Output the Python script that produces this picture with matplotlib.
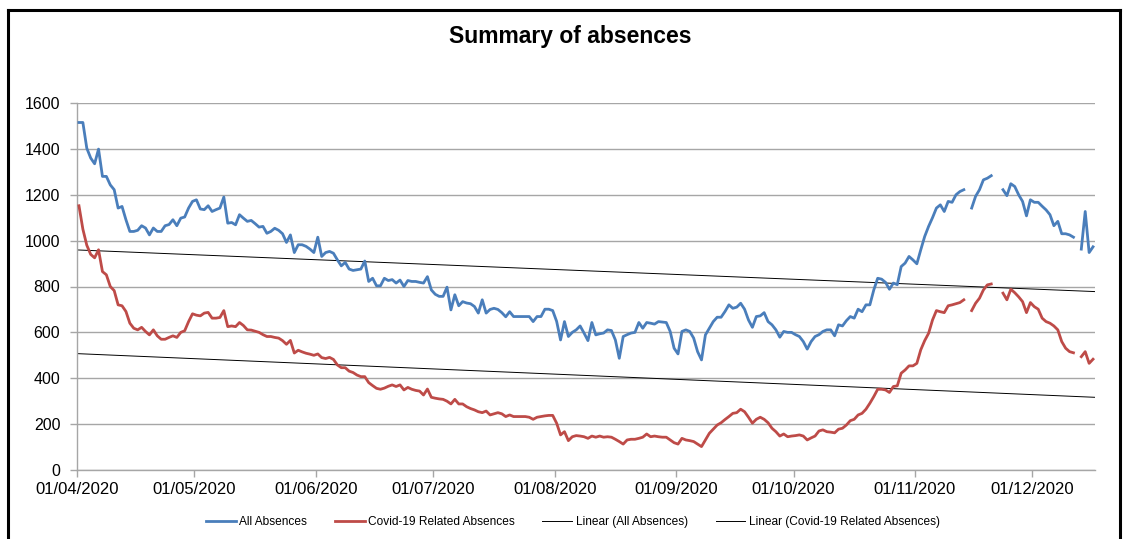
import matplotlib
matplotlib.use("Agg")
import matplotlib.pyplot as plt
import matplotlib.dates as mdates
from matplotlib.lines import Line2D
from matplotlib import font_manager
import numpy as np
import pandas as pd

nan = np.nan

# Daily absence counts from 01/04/2020 onwards (nan = no return)
start_date = "2020-04-01"

all_absences = [
    1515, 1515, 1403, 1360, 1335, 1399, 1280, 1280, 1243, 1222,
    1142, 1149, 1091, 1040, 1040, 1045, 1065, 1055, 1025, 1055,
    1040, 1040, 1065, 1070, 1091, 1065, 1098, 1103, 1142, 1171,
    1178, 1138, 1135, 1152, 1127, 1135, 1142, 1190, 1076, 1079,
    1069, 1113, 1098, 1084, 1088, 1074, 1059, 1062, 1032, 1040,
    1054, 1045, 1030, 992, 1025, 948, 982, 982, 975, 963,
    948, 1015, 931, 948, 953, 945, 916, 890, 905, 876,
    870, 873, 876, 911, 822, 836, 803, 803, 836, 826,
    830, 815, 828, 800, 826, 822, 822, 818, 815, 843,
    785, 766, 757, 757, 797, 698, 764, 716, 734, 728,
    725, 713, 684, 742, 684, 700, 705, 700, 686, 668,
    690, 669, 669, 669, 669, 669, 647, 669, 669, 701,
    701, 695, 648, 567, 647, 582, 600, 611, 628, 597,
    564, 643, 589, 594, 597, 611, 608, 567, 487, 582,
    590, 597, 600, 643, 618, 643, 640, 636, 647, 645,
    643, 604, 531, 506, 604, 611, 604, 575, 516, 480,
    589, 618, 647, 666, 666, 691, 720, 705, 710, 727,
    701, 654, 622, 669, 672, 686, 647, 633, 611, 579,
    604, 600, 600, 590, 582, 560, 527, 560, 582, 590,
    604, 611, 611, 585, 633, 628, 651, 669, 662, 701,
    690, 720, 720, 785, 836, 832, 818, 788, 815, 808,
    887, 902, 931, 916, 899, 960, 1018, 1062, 1100, 1142,
    1156, 1127, 1171, 1167, 1200, 1214, 1222, nan, 1142, 1193,
    1222, 1265, 1272, 1283, nan, nan, 1222, 1196, 1248, 1236,
    1200, 1171, 1108, 1178, 1167, 1167, 1150, 1134, 1113, 1065,
    1084, 1030, 1030, 1025, 1015, nan, 963, 1127, 948, 973,
]

covid_absences = [
    1152, 1050, 980, 940, 925, 960, 865, 851, 800, 782,
    720, 716, 691, 640, 618, 611, 622, 604, 589, 611,
    585, 570, 570, 578, 585, 578, 600, 607, 647, 681,
    675, 672, 684, 687, 662, 662, 665, 695, 625, 628,
    625, 643, 630, 611, 610, 605, 600, 590, 582, 582,
    578, 575, 564, 548, 565, 510, 522, 515, 509, 505,
    500, 506, 490, 486, 491, 482, 458, 446, 446, 431,
    425, 414, 407, 407, 381, 368, 356, 352, 357, 365,
    371, 364, 371, 349, 360, 352, 347, 344, 327, 353,
    317, 313, 310, 308, 300, 288, 308, 288, 288, 276,
    268, 262, 254, 250, 257, 240, 245, 250, 245, 233,
    240, 233, 233, 233, 233, 230, 221, 230, 233, 236,
    238, 238, 204, 153, 167, 128, 145, 150, 148, 145,
    138, 148, 143, 148, 143, 145, 143, 134, 124, 113,
    131, 134, 134, 138, 143, 157, 145, 148, 145, 143,
    143, 131, 119, 113, 138, 131, 128, 124, 113, 102,
    131, 160, 178, 196, 206, 220, 233, 247, 250, 265,
    254, 230, 204, 221, 230, 221, 206, 182, 167, 148,
    157, 145, 148, 150, 153, 148, 131, 140, 148, 170,
    175, 167, 165, 162, 178, 182, 196, 215, 221, 240,
    247, 265, 291, 320, 352, 352, 349, 338, 364, 367,
    422, 436, 454, 454, 465, 524, 564, 596, 654, 695,
    690, 686, 716, 720, 725, 730, 742, nan, 695, 727,
    749, 785, 807, 811, nan, nan, 771, 742, 788, 773,
    755, 734, 686, 730, 712, 701, 662, 647, 640, 628,
    611, 560, 531, 516, 511, nan, 494, 516, 465, 483,
]

month_ticks = ["2020-04-01", "2020-05-01", "2020-06-01", "2020-07-01", "2020-08-01",
               "2020-09-01", "2020-10-01", "2020-11-01", "2020-12-01"]
y_ticks = [0, 200, 400, 600, 800, 1000, 1200, 1400, 1600]

series_names = ["All Absences", "Covid-19 Related Absences"]
trend_names = ["Linear (All Absences)", "Linear (Covid-19 Related Absences)"]

BLUE = "#4A7EBB"
RED = "#BE4B48"

available = {f.name for f in font_manager.fontManager.ttflist}
base_font = "Liberation Sans Narrow" if "Liberation Sans Narrow" in available else "Liberation Sans"
plt.rcParams["font.family"] = [base_font, "DejaVu Sans"]

W, H = 1129, 539
fig = plt.figure(figsize=(W / 100, H / 100), dpi=100)
ax = fig.add_axes([77 / W, 1 - 470 / H, (1095 - 77) / W, (470 - 103) / H])

dates = pd.date_range(start_date, periods=len(all_absences), freq="D")
x = mdates.date2num(dates) + 0.5          # each day centred in its slot
x0 = mdates.date2num(dates[0])
x1 = mdates.date2num(dates[-1]) + 1

a = np.array(all_absences, dtype=float)
c = np.array(covid_absences, dtype=float)

ax.plot(x, a, color=BLUE, lw=2.0, solid_joinstyle="round", label=series_names[0], zorder=3)
ax.plot(x, c, color=RED, lw=2.0, solid_joinstyle="round", label=series_names[1], zorder=3)

# least-squares linear trend lines
xt = np.array([x0, x1])
for vals, name in ((a, trend_names[0]), (c, trend_names[1])):
    ok = ~np.isnan(vals)
    k, b = np.polyfit(x[ok], vals[ok], 1)
    ax.plot(xt, k * xt + b, color="black", lw=0.7, label=name, zorder=2)

ax.set_xlim(x0, x1)
ax.set_ylim(0, 1600)
ax.set_yticks(y_ticks)
ax.set_yticklabels([str(v) for v in y_ticks])
tick_pos = mdates.date2num(pd.to_datetime(month_ticks))
ax.set_xticks(tick_pos)
ax.set_xticklabels([pd.Timestamp(t).strftime("%d/%m/%Y") for t in month_ticks])

ax.grid(axis="y", color="#A6A6A6", lw=1.0)
ax.set_axisbelow(True)
for s in ("top", "right"):
    ax.spines[s].set_visible(False)
for s in ("left", "bottom"):
    ax.spines[s].set_color("#A6A6A6")
    ax.spines[s].set_linewidth(1.0)
ax.tick_params(axis="both", colors="#A6A6A6", labelcolor="black",
               length=5, width=1.0, direction="out")
ax.tick_params(axis="x", pad=4, labelsize=12)
ax.tick_params(axis="y", pad=7, labelsize=11.5)

fig.text(570 / W, 1 - 37 / H, "Summary of absences", ha="center", va="center",
         fontsize=16.5, fontweight="bold")

leg = fig.legend(loc="center", bbox_to_anchor=(573 / W, 1 - 522 / H), ncol=4,
                 frameon=False, fontsize=8.6, handlelength=2.5, columnspacing=2.3,
                 handletextpad=0.3)

# chart frame
frame_kw = dict(color="black", lw=2.2, transform=fig.transFigure)
fig.add_artist(Line2D([8 / W, 8 / W], [0, 1 - 10 / H], **frame_kw))
fig.add_artist(Line2D([8 / W, 1120 / W], [1 - 10 / H, 1 - 10 / H], **frame_kw))
fig.add_artist(Line2D([1120 / W, 1120 / W], [0, 1 - 10 / H], **frame_kw))

fig.savefig("out.png", dpi=100, facecolor="white")
